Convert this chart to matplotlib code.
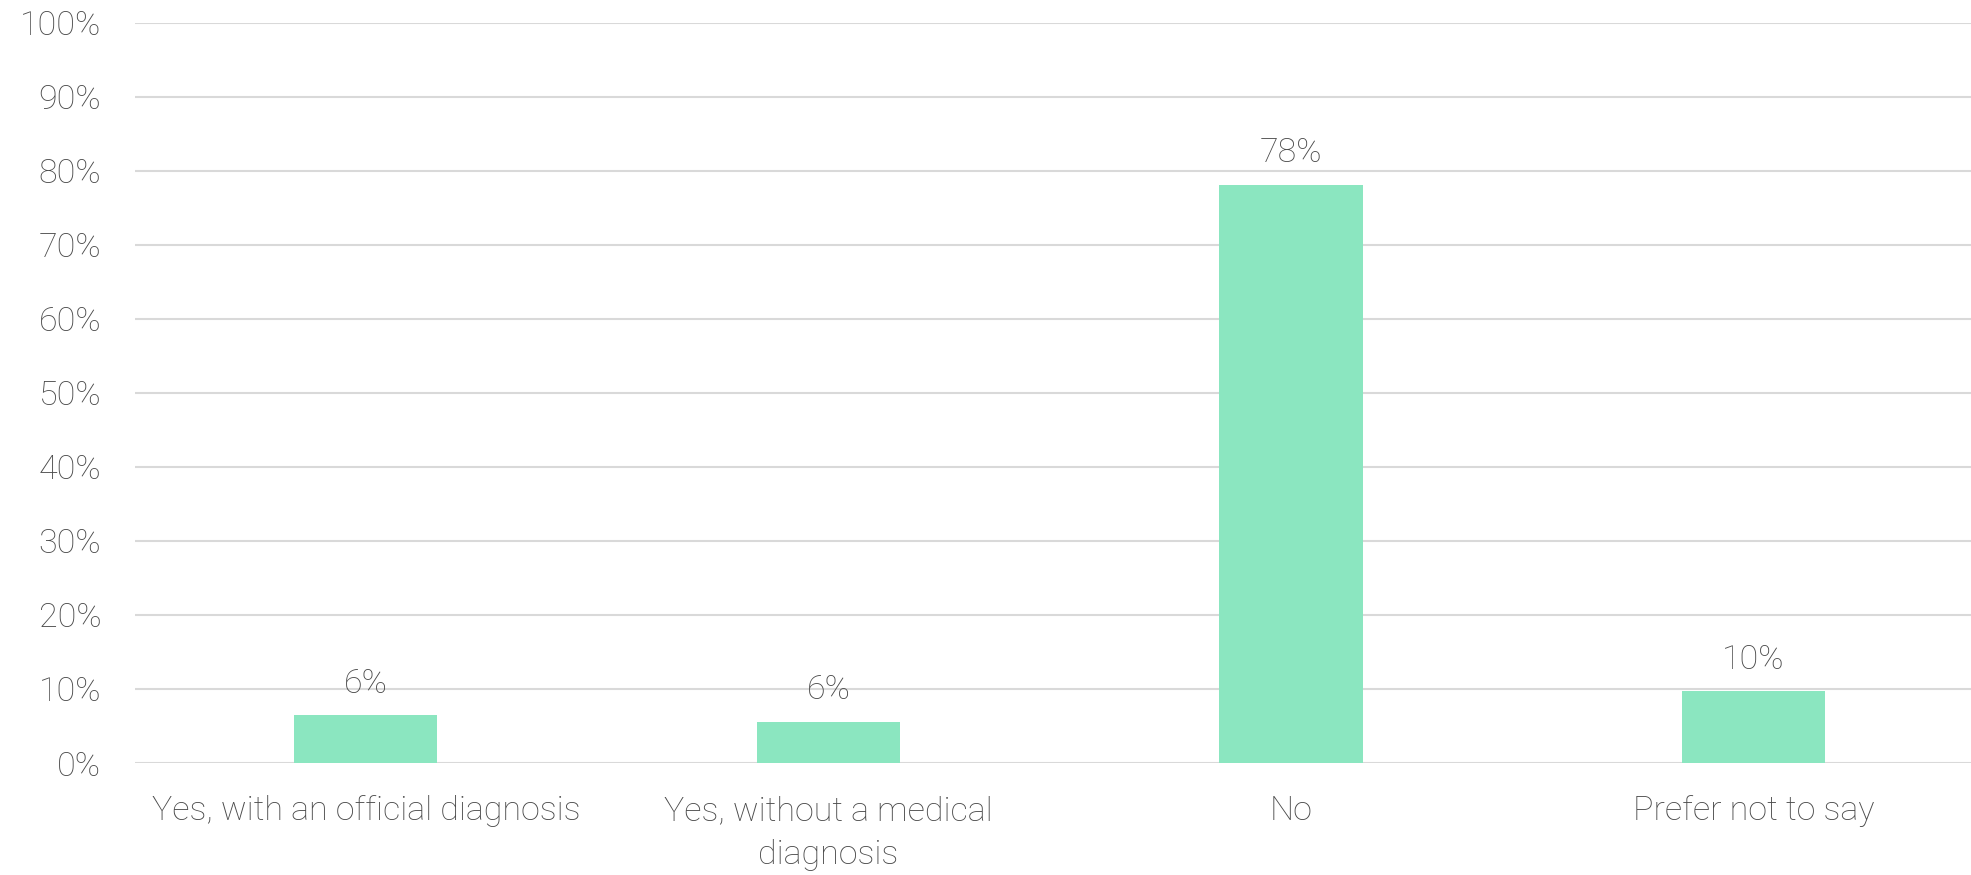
import numpy as np
import matplotlib
matplotlib.use("Agg")
import matplotlib.pyplot as plt

categories = ["Yes, with an official diagnosis", "Yes, without a medical\ndiagnosis", "No", "Prefer not to say"]
values = [6.45, 5.6, 78.1, 9.7]
value_labels = ["6%", "6%", "78%", "10%"]
yticks = list(range(0, 101, 10))
ytick_labels = [f"{t}%" for t in yticks]

bar_color = "#8be6c0"
text_color = "#4a4a4a"
grid_color = "#d9d9d9"

plt.rcParams["font.family"] = ["Roboto", "DejaVu Sans"]
fs = 24.5

fig = plt.figure(figsize=(19.71, 8.75), dpi=100)
ax = fig.add_axes([134.5 / 1971, 112 / 875, 1 - 134.5 / 1971, (763 - 22.6) / 875])

x = np.arange(len(categories))
bars = ax.bar(x, values, width=0.31, color=bar_color, zorder=3)

for b, lab in zip(bars, value_labels):
    ax.annotate(lab, (b.get_x() + b.get_width() / 2, b.get_height()),
                xytext=(0, 11), textcoords="offset points",
                ha="center", va="bottom", fontsize=fs, color=text_color,
                fontweight="light")

ax.set_xlim(-0.5, 3.47)
ax.set_ylim(0, 100)
ax.set_yticks(yticks)
ax.set_yticklabels(ytick_labels)
ax.set_xticks(x)
ax.set_xticklabels(categories, linespacing=1.5)

ax.yaxis.grid(True, color=grid_color, linewidth=1.5, zorder=0)
ax.tick_params(axis="both", length=0, labelsize=fs, colors=text_color)
ax.tick_params(axis="y", pad=24)
ax.tick_params(axis="x", pad=23)
for lbl in ax.get_xticklabels() + ax.get_yticklabels():
    lbl.set_fontweight("light")
for s in ax.spines.values():
    s.set_visible(False)

fig.savefig("out.png", dpi=100)
